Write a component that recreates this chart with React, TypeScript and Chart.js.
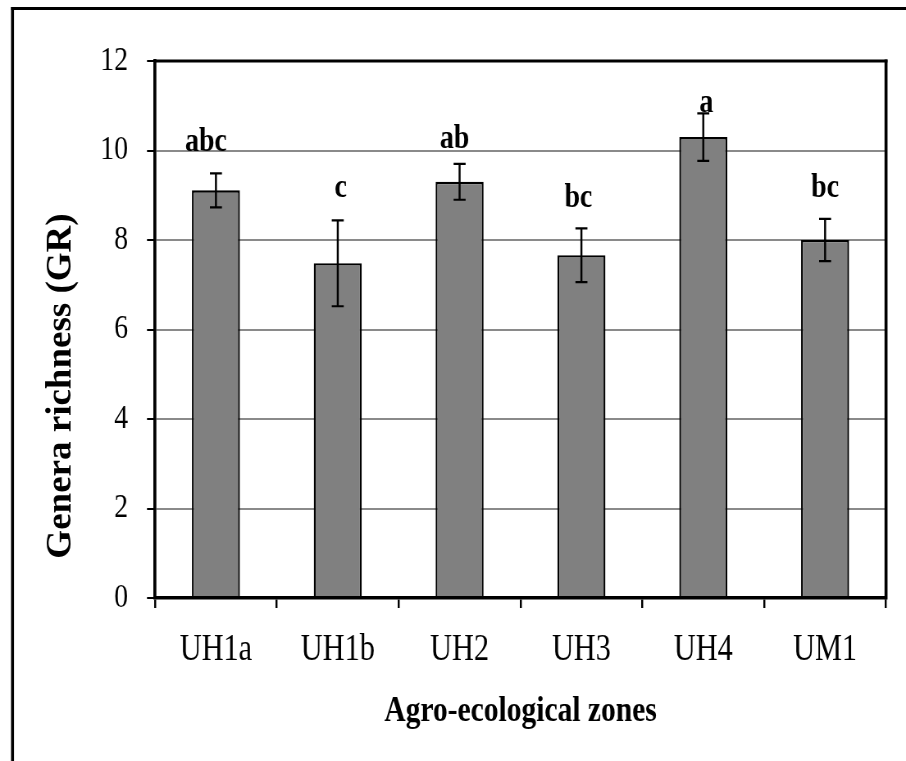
import React, { useEffect, useRef } from 'react';
import { Chart, registerables } from 'chart.js';

Chart.register(...registerables);

// ---- data ----
const categories = ['UH1a', 'UH1b', 'UH2', 'UH3', 'UH4', 'UM1'];
const richness = [9.11, 7.48, 9.3, 7.66, 10.3, 8.0];
const errors = [0.38, 0.96, 0.4, 0.6, 0.53, 0.47];
const letters = ['abc', 'c', 'ab', 'bc', 'a', 'bc'];
const letterHeights = [10.0, 8.96, 10.05, 8.73, 10.85, 8.97];
const yTickValues = [0, 2, 4, 6, 8, 10, 12];

// ---- geometry / styling (not data) ----
const W = 906;
const H = 761;
const CW = 1105; // internal canvas width (text is rendered slightly condensed)
const SX = W / CW;
const ix = (d: number) => d / SX;
const FAMILY = "'Liberation Serif', 'Times New Roman', Times, serif";
const LETTER_DX = [-10, 3, -5, -3, 3, 0]; // small horizontal nudges of the significance letters (display px)

const framePlugin = {
  id: 'frame',
  beforeDraw(chart: any) {
    const ctx = chart.ctx;
    ctx.save();
    ctx.fillStyle = '#ffffff';
    ctx.fillRect(0, 0, CW, H);
    ctx.fillStyle = '#000000';
    ctx.fillRect(ix(11), 7, ix(3), H);
    ctx.fillRect(ix(11), 7, CW, 3);
    ctx.restore();
  },
};

const plotBorderPlugin = {
  id: 'plotBorder',
  afterDatasetsDraw(chart: any) {
    const ctx = chart.ctx;
    const ca = chart.chartArea;
    ctx.save();
    ctx.fillStyle = '#000000';
    ctx.fillRect(ca.left - ix(1.5), ca.top - 1.5, ca.right - ca.left + ix(3), 3);
    ctx.fillRect(ca.right - ix(1.5), ca.top - 1.5, ix(3), ca.bottom - ca.top + 3);
    ctx.restore();
  },
};

const errorBarPlugin = {
  id: 'errorBars',
  afterDatasetsDraw(chart: any) {
    const ctx = chart.ctx;
    const meta = chart.getDatasetMeta(0);
    const y = chart.scales.y;
    ctx.save();
    ctx.strokeStyle = '#000000';
    meta.data.forEach((el: any, i: number) => {
      const x = el.x;
      const top = y.getPixelForValue(richness[i] + errors[i]);
      const bot = y.getPixelForValue(richness[i] - errors[i]);
      ctx.lineWidth = ix(2);
      ctx.beginPath();
      ctx.moveTo(x, top);
      ctx.lineTo(x, bot);
      ctx.stroke();
      const hw = ix(6);
      ctx.lineWidth = 2.2;
      ctx.beginPath();
      ctx.moveTo(x - hw, top);
      ctx.lineTo(x + hw, top);
      ctx.moveTo(x - hw, bot);
      ctx.lineTo(x + hw, bot);
      ctx.stroke();
    });
    ctx.restore();
  },
};

const lettersPlugin = {
  id: 'letters',
  afterDatasetsDraw(chart: any) {
    const ctx = chart.ctx;
    const meta = chart.getDatasetMeta(0);
    const y = chart.scales.y;
    ctx.save();
    ctx.fillStyle = '#000000';
    ctx.font = `bold 34px ${FAMILY}`;
    ctx.textAlign = 'center';
    ctx.textBaseline = 'alphabetic';
    meta.data.forEach((el: any, i: number) => {
      ctx.fillText(letters[i], el.x + ix(LETTER_DX[i]), y.getPixelForValue(letterHeights[i]));
    });
    ctx.restore();
  },
};

const yTitlePlugin = {
  id: 'yTitle',
  afterDraw(chart: any) {
    const ctx = chart.ctx;
    ctx.save();
    ctx.translate(ix(61), 386);
    ctx.scale(1 / SX, 1);
    ctx.rotate(-Math.PI / 2);
    ctx.fillStyle = '#000000';
    ctx.font = `bold 37px ${FAMILY}`;
    ctx.textAlign = 'center';
    ctx.textBaseline = 'middle';
    ctx.fillText('Genera richness (GR)', 0, 0);
    ctx.restore();
  },
};

export default function App() {
  const ref = useRef<HTMLCanvasElement | null>(null);

  useEffect(() => {
    if (!ref.current) return;
    const chart = new Chart(ref.current, {
      type: 'bar',
      data: {
        labels: categories,
        datasets: [
          {
            data: richness,
            backgroundColor: '#808080',
            borderColor: '#000000',
            borderWidth: 2.3,
            borderSkipped: 'start',
            barPercentage: 0.394,
            categoryPercentage: 1,
          },
        ],
      },
      options: {
        animation: false,
        responsive: false,
        maintainAspectRatio: false,
        devicePixelRatio: 1,
        events: [],
        layout: {
          padding: { left: 0, right: CW - ix(886), top: 61, bottom: 0 },
        },
        plugins: {
          legend: { display: false },
          tooltip: { enabled: false },
        },
        scales: {
          x: {
            grid: {
              offset: true,
              drawOnChartArea: false,
              drawTicks: true,
              tickLength: 10,
              color: '#000000',
              lineWidth: ix(2),
            },
            border: { display: true, color: '#000000', width: 3.5, z: 1 },
            ticks: {
              color: '#000000',
              font: { family: FAMILY, size: 37 },
              padding: 20,
              maxRotation: 0,
              autoSkip: false,
            },
            title: {
              display: true,
              text: 'Agro-ecological zones',
              color: '#000000',
              font: { family: FAMILY, size: 36, weight: 'bold' },
              padding: { top: 0, bottom: 28 },
            },
            afterFit: (s: any) => {
              s.height = H - 598;
            },
          },
          y: {
            min: 0,
            max: 12,
            afterBuildTicks: (s: any) => {
              s.ticks = yTickValues.map((v) => ({ value: v }));
            },
            grid: {
              color: '#8a8a8a',
              lineWidth: 2,
              tickColor: '#000000',
              tickWidth: 2,
              tickLength: ix(8),
              drawTicks: true,
            },
            border: { display: true, color: '#000000', width: ix(3), z: 1 },
            ticks: {
              color: '#000000',
              font: { family: FAMILY, size: 34 },
              padding: 23,
            },
            afterFit: (s: any) => {
              s.width = ix(155);
            },
          },
        },
      },
      plugins: [framePlugin, errorBarPlugin, plotBorderPlugin, lettersPlugin, yTitlePlugin],
    } as any);
    return () => chart.destroy();
  }, []);

  return (
    <div style={{ position: 'fixed', left: 0, top: 0, width: W, height: H, background: '#ffffff' }}>
      <canvas
        ref={ref}
        width={CW}
        height={H}
        style={{ width: `${W}px`, height: `${H}px`, display: 'block' }}
      />
    </div>
  );
}
